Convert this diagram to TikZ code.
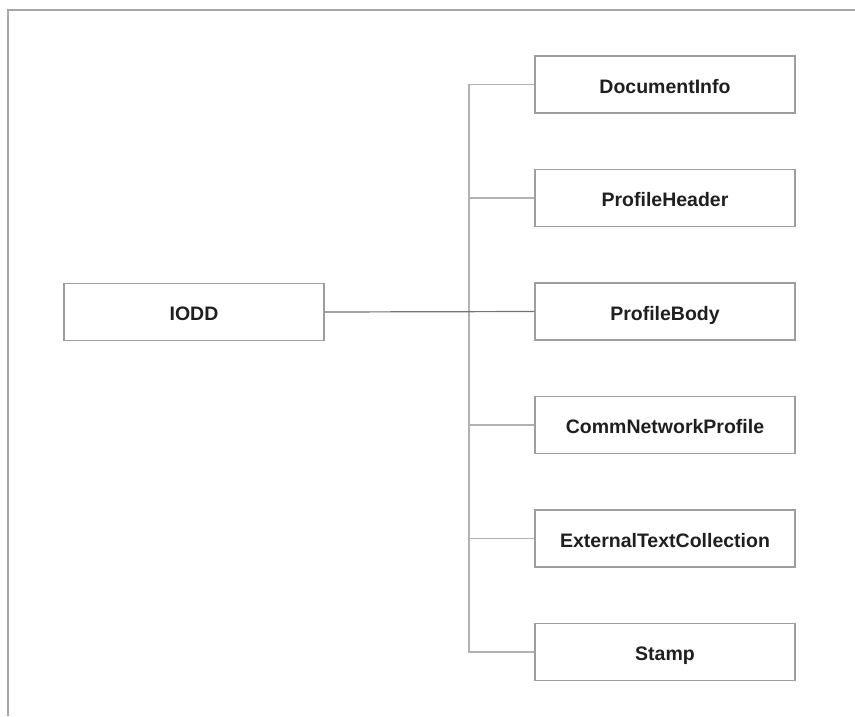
\documentclass[tikz,border=0pt]{standalone}
\usepackage{fontspec}
\setmainfont{Liberation Sans}
\usepackage{tikz}
\usetikzlibrary{positioning,calc}

\tikzset{
	elem/.style={rectangle, draw=black!38, line width=1.2pt, fill=white, minimum width=260pt, minimum height=57pt, inner sep=0pt, text height=17pt, text depth=0pt, text=black!88, font=\fontsize{19.5}{23}\selectfont\bfseries},
	conn/.style={draw=black!30, line width=1.2pt},
}

\begin{document}
\begin{tikzpicture}[x=1pt, y=-1pt]
		\useasboundingbox (0,0) rectangle (855,716);
		\draw[black!35, line width=1.3pt] (8,716) -- (8,10) -- (855,10);
		\node[elem] (IODD) at (194, 312) {IODD};
		\node[elem] (DI) at (665, 84.5) {DocumentInfo};
		\node[elem] (PH) at (665, 198) {ProfileHeader};
		\node[elem] (PB) at (665, 311.5) {ProfileBody};
		\node[elem] (CNP) at (665, 425) {CommNetworkProfile};
		\node[elem] (ETC) at (665, 538.5) {ExternalTextCollection};
		\node[elem] (St) at (665, 652) {Stamp};
		\coordinate (bus) at (469, 312);
		\draw[conn] (bus) |- (DI.west);
		\draw[conn] (bus) |- (PH.west);
		\draw[conn] (bus) |- (CNP.west);
		\draw[conn] (bus) |- (ETC.west);
		\draw[conn] (bus) |- (St.west);
		\draw[draw=black!55, line width=1.2pt] (IODD.east) -- (PB.west);
	\end{tikzpicture}
\end{document}
